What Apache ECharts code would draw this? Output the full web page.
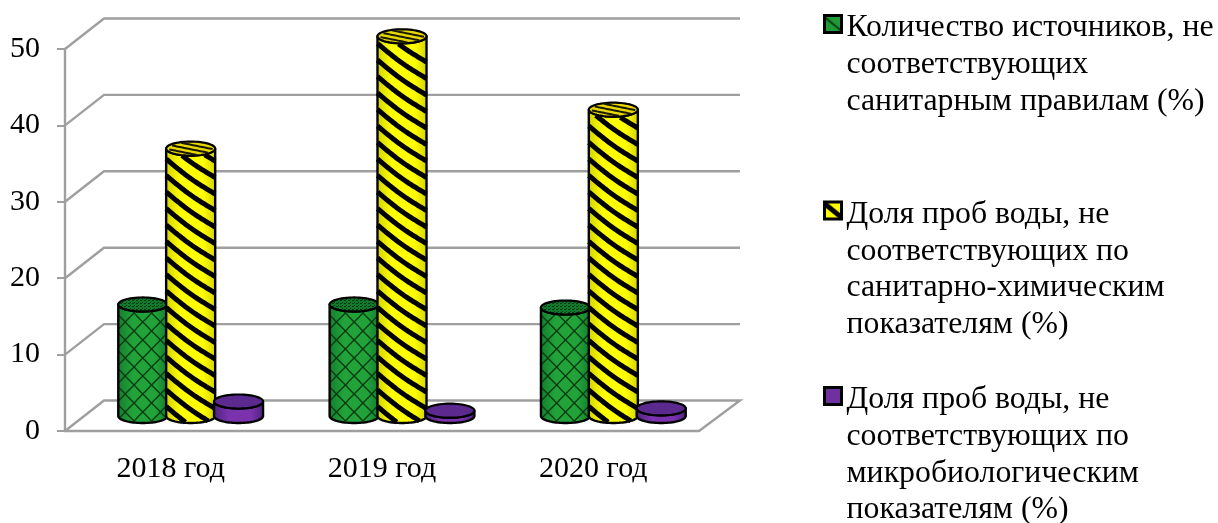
<!DOCTYPE html>
<html>
<head>
<meta charset="utf-8">
<style>html,body{margin:0;padding:0;background:#fff}#chart{width:1218px;height:523px}</style>
<script src="https://cdn.jsdelivr.net/npm/echarts@6/dist/echarts.min.js"></script>
</head>
<body>
<div id="chart"></div>
<script>
// Non-compliant water sources and samples by year, percent
const categories = ['2018 год', '2019 год', '2020 год'];
const sourcesShare = [14.6, 14.6, 14.2];
const chemicalShare = [35.0, 49.7, 40.1];
const microShare = [1.9, 0.7, 1.0];
const valueTicks = [0, 10, 20, 30, 40, 50];

const sourcesLines = ['Количество источников, не', 'соответствующих', 'санитарным правилам (%)'];
const chemicalLines = ['Доля проб воды, не', 'соответствующих по', 'санитарно-химическим', 'показателям (%)'];
const microLines = ['Доля проб воды, не', 'соответствующих по', 'микробиологическим', 'показателям (%)'];

const FONT = '"Liberation Serif", serif';
const GRAY = '#9f9f9f';
const DEPTH_X = 39, DEPTH_Y = -30.5;      // floor depth of the pseudo-3D box
const MID_X = 20, MID_Y = -15;            // cylinders stand mid-way across the floor
const RX_SHARE = 0.116, RY = 7, SLOT_SHARE = 0.2265;
const LEGEND_LINE = 36.7, LEGEND_GAP = 8;

function tile(w, h, paint) {
  const c = document.createElement('canvas');
  c.width = w; c.height = h;
  paint(c.getContext('2d'));
  return c;
}
function bandTile(base, ink, width) {
  return tile(17, 17, g => {
    g.fillStyle = base; g.fillRect(0, 0, 17, 17);
    g.strokeStyle = ink; g.lineWidth = width;
    g.beginPath(); g.moveTo(-2, 0); g.lineTo(19, 17); g.stroke();
  });
}
const greenTile = bandTile('#1f9a36', '#06300f', 1.6);
const yellowTile = bandTile('#ffff00', '#000', 5);
const dotTile = tile(4, 3, g => {
  g.fillStyle = '#127a2c'; g.fillRect(0, 0, 4, 3);
  g.fillStyle = '#063a14'; g.fillRect(0, 0, 2, 1); g.fillRect(2, 2, 1, 1);
});

function sideGradient(edge, mid) {
  return { type: 'linear', x: 0, y: 0, x2: 1, y2: 0, colorStops: [
    { offset: 0, color: edge }, { offset: 0.3, color: mid },
    { offset: 0.75, color: mid }, { offset: 1, color: edge } ] };
}

// Slanted bands across the visible side of a cylinder, cut at its top and bottom rims
function slantedBands(cx, rx, topY, baseY, band, style) {
  const out = [];
  const steps = 28;
  const rim = t => RY * Math.sqrt(Math.max(0, 1 - (2 * t - 1) * (2 * t - 1)));
  for (let s = baseY + RY; s > topY - band.drop - band.period; s -= band.period) {
    let run = [];
    for (let i = 0; i <= steps; i++) {
      const t = i / steps;
      const slant = band.mirror ? 1 - t : t;
      const y = s + band.drop * slant - band.bow * Math.sin(Math.PI * t);
      if (y >= topY + rim(t) && y <= baseY + rim(t)) {
        run.push([cx - rx + 2 * rx * t, y]);
      } else if (run.length) {
        break;
      }
    }
    if (run.length > 5) out.push({ type: 'polyline', shape: { points: run }, style });
  }
  return out;
}

function capStripes(cx, cy, rx, gap, slope, style) {
  const out = [];
  for (let c = cy - RY * 1.2; c < cy + RY * 1.2; c += gap) {
    const run = [];
    for (let x = cx - rx; x <= cx + rx; x += 1.5) {
      const y = c + slope * (x - cx);
      const nx = (x - cx) / rx, ny = (y - cy) / RY;
      if (nx * nx + ny * ny < 0.88) run.push([x, y]);
    }
    if (run.length > 1) out.push({ type: 'polyline', shape: { points: run }, style });
  }
  return out;
}

function cylinderSeries(name, values, slot, look) {
  return {
    type: 'custom', name, z: 3 + slot, clip: false, silent: true,
    data: values.map((v, i) => [i, v]),
    encode: { x: 0, y: 1 },
    renderItem(params, api) {
      const band = api.size([1, 0])[0];
      const top = api.coord([api.value(0), api.value(1)]);
      const base = api.coord([api.value(0), 0]);
      const cx = base[0] + MID_X + slot * band * SLOT_SHARE;
      const rx = band * RX_SHARE;
      const topY = top[1] + MID_Y, baseY = base[1] + MID_Y;
      const pts = [];
      for (let i = 0; i <= 40; i++) {
        const u = Math.PI * i / 40;
        pts.push([cx - rx * Math.cos(u), baseY + RY * Math.sin(u)]);
      }
      for (let i = 40; i >= 0; i--) {
        const u = Math.PI * i / 40;
        pts.push([cx - rx * Math.cos(u), topY + RY * Math.sin(u)]);
      }
      const capPts = [];
      for (let i = 0; i < 60; i++) {
        const u = 2 * Math.PI * i / 60;
        capPts.push([cx + rx * Math.cos(u), topY + RY * Math.sin(u)]);
      }
      const children = [{ type: 'polygon', shape: { points: pts }, style: { fill: look.side, stroke: null } }];
      if (look.bands) {
        look.bands.forEach(b => {
          children.push(...slantedBands(cx, rx, topY, baseY, b,
            { fill: null, stroke: b.color, lineWidth: b.width }));
        });
      }
      children.push({ type: 'polygon', shape: { points: pts }, style: { fill: null, stroke: '#000', lineWidth: 2.4, lineJoin: 'round' } });
      children.push({ type: 'polygon', shape: { points: capPts }, style: { fill: look.cap, stroke: '#000', lineWidth: 2.2 } });
      if (look.capLines) {
        children.push(...capStripes(cx, topY, rx, look.capLines.gap, look.capLines.slope,
          { fill: null, stroke: look.capLines.color, lineWidth: look.capLines.width }));
      }
      return { type: 'group', children };
    }
  };
}

// Back walls and floor of the box, one ledge per value tick
const wallSeries = {
  type: 'custom', z: 1, clip: false, silent: true,
  data: valueTicks.map(v => [0, v]),
  encode: { x: 0, y: 1 },
  renderItem(params, api) {
    const y = api.coord([0, api.value(1)])[1];
    const left = params.coordSys.x, right = left + params.coordSys.width;
    const style = { fill: null, stroke: GRAY, lineWidth: 2.4 };
    const points = [[left, y], [left + DEPTH_X, y + DEPTH_Y], [right + DEPTH_X + 2, y + DEPTH_Y]];
    if (api.value(1) === 0) points.push([right, y]);
    return { type: 'polyline', shape: { points }, style };
  }
};

// A multi-line legend label is centred on its marker, so blank lines above the
// text bring the first line level with the marker; a thin spacer row on top sets
// the text a few pixels below the marker's centre.
function legendFor(lines, markerY, marker) {
  const name = lines.join(' ');
  const blanks = lines.slice(1).map(() => ' ');
  const row = { fontFamily: FONT, fontSize: 31.8, lineHeight: LEGEND_LINE, height: LEGEND_LINE, color: '#000' };
  return {
    left: 823, top: markerY - LEGEND_GAP / 2 - LEGEND_LINE / 2 - blanks.length * LEGEND_LINE,
    orient: 'vertical', itemWidth: 17, itemHeight: 17, padding: 0,
    selectedMode: false,
    data: [{ name, icon: 'rect', itemStyle: { color: marker, borderColor: '#000', borderWidth: 3 } }],
    formatter: () => ['{gap| }'].concat(blanks.concat(lines).map(t => '{row|' + t + '}')).join('\n'),
    textStyle: {
      rich: {
        gap: { fontSize: 1, lineHeight: LEGEND_GAP, height: LEGEND_GAP },
        row
      }
    }
  };
}

const chart = echarts.init(document.getElementById('chart'), null, { renderer: 'canvas' });
chart.setOption({
  animation: false,
  backgroundColor: '#fff',
  grid: { left: 65, right: 519, top: 49, bottom: 92 },
  xAxis: {
    type: 'category', data: categories, boundaryGap: true,
    axisLine: { lineStyle: { color: GRAY, width: 2.4 } },
    axisTick: { length: 8, lineStyle: { color: GRAY, width: 2 } },
    axisLabel: { fontFamily: FONT, fontSize: 30, color: '#000', margin: 23 }
  },
  yAxis: {
    type: 'value', min: 0, max: 50, interval: 10,
    splitLine: { show: false },
    axisLine: { show: true, lineStyle: { color: GRAY, width: 2.4 } },
    axisTick: { show: true, length: 8, lineStyle: { color: GRAY, width: 2 } },
    axisLabel: { fontFamily: FONT, fontSize: 30, color: '#000', margin: 25 }
  },
  legend: [
    legendFor(sourcesLines, 24, { image: greenTile, repeat: 'repeat' }),
    legendFor(chemicalLines, 210.5, { image: yellowTile, repeat: 'repeat' }),
    legendFor(microLines, 396, '#7030a0')
  ],
  series: [
    wallSeries,
    cylinderSeries(sourcesLines.join(' '), sourcesShare, -1, {
      side: sideGradient('#157f2e', '#22a33a'),
      cap: { image: dotTile, repeat: 'repeat' },
      bands: [
        { period: 18, drop: 50, bow: 0, mirror: false, color: '#0a3d14', width: 1.4 },
        { period: 18, drop: 50, bow: 0, mirror: true, color: '#0a3d14', width: 1.4 }
      ]
    }),
    cylinderSeries(chemicalLines.join(' '), chemicalShare, 0, {
      side: sideGradient('#d4d400', '#ffff00'),
      cap: '#e8d800',
      bands: [{ period: 16.5, drop: 35, bow: -2, mirror: false, color: '#000', width: 5 }],
      capLines: { gap: 4.5, slope: 0.2, color: '#1a1a00', width: 2 }
    }),
    cylinderSeries(microLines.join(' '), microShare, 1, {
      side: sideGradient('#4f2380', '#7a33ad'),
      cap: '#5c2a8e'
    })
  ]
});
</script>
</body>
</html>
